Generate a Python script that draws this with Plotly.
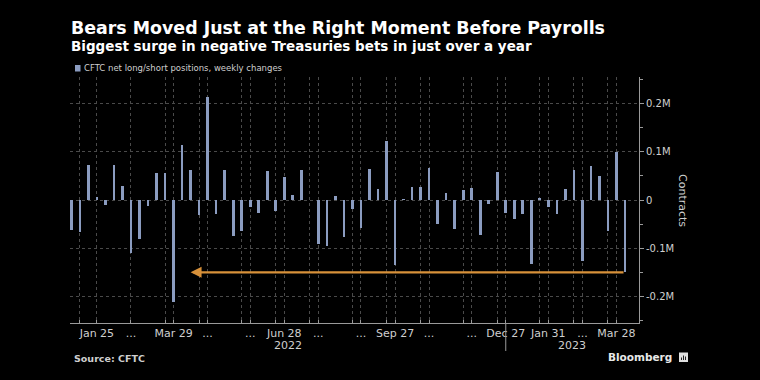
import pandas as pd
import plotly.graph_objects as go

# ---------------- data ----------------
week_start = "2022-01-04"          # first weekly CFTC report (Tuesday)
n_weeks = 66
weeks = pd.date_range(week_start, periods=n_weeks, freq="7D")

# weekly change in CFTC net long/short Treasury positions (contracts)
net_change = [
    -63000, -66000, 72000, 7000, -10000, 72000, 28000, -110000, -81000, -12000,
    57000, 57000, -212000, 113000, 63000, -32000, 214000, -29000, 62000, -74000,
    -65000, -15000, -27000, 61000, -23000, 47000, 11000, 62000, 0, -91000,
    -95000, 9000, -76000, -18000, -59000, 64000, 23000, 123000, -135000, 1000,
    27000, 27000, 66000, -50000, 15000, -60000, 21000, 25000, -72000, -8000,
    59000, -27000, -40000, -28000, -132000, 3000, -14500, -30000, 23000, 62000,
    -127000, 71000, 49000, -64000, 99000, -150000,
]

# x-axis labels (Bloomberg style, crowded months shown as "...")
label_dates = ["2022-01-25", "2022-02-22", "2022-03-29", "2022-04-26", "2022-05-31",
               "2022-06-28", "2022-07-26", "2022-08-30", "2022-09-27", "2022-10-25",
               "2022-11-29", "2022-12-27", "2023-01-31", "2023-02-28", "2023-03-28"]
label_text = ["Jan 25", "...", "Mar 29", "...", "...", "Jun 28", "...", "...", "Sep 27",
              "...", "...", "Dec 27", "Jan 31", "...", "Mar 28"]
# additional vertical grid positions without labels
extra_grid_dates = ["2022-01-11", "2022-03-22", "2022-04-19", "2022-05-24", "2022-06-21",
                    "2022-07-19", "2022-08-23", "2022-09-20", "2022-10-18", "2022-11-22",
                    "2022-12-20", "2023-01-24", "2023-02-21", "2023-03-21"]

y_ticks = [-200000, -100000, 0, 100000, 200000]
y_tick_text = ["-0.2M", "-0.1M", "0", "0.1M", "0.2M"]
y_minor = [-250000, -150000, -50000, 50000, 150000, 250000]

year_labels = ["2022", "2023"]
year_break = "2022-12-27"

# arrow annotation: from the latest week back to the comparable surge
arrow_level = -150000
arrow_from = "2023-04-04"
arrow_to = "2022-04-12"

title = "Bears Moved Just at the Right Moment Before Payrolls"
subtitle = "Biggest surge in negative Treasuries bets in just over a year"
legend_text = "CFTC net long/short positions, weekly changes"
source = "Source: CFTC"

# ---------------- styling ----------------
FONT = "DejaVu Sans"
BAR = "#8b9cc0"
GRID = "#4a4a4a"
AXIS = "#9a9a9a"
TXT = "#cfcfcf"

W, H = 760, 380
ML, MR, MT, MB = 70, 121, 77, 57
PW, PH = W - ML - MR, H - MT - MB


def px(x):
    return (x - ML) / PW


def py(y):
    return (H - MB - y) / PH


x_range = [weeks[0] - pd.Timedelta(hours=26), weeks[-1] + pd.Timedelta(days=11.5)]

fig = go.Figure()
fig.add_trace(go.Bar(
    x=weeks, y=net_change,
    width=2.2 * 86400000,
    marker=dict(color=BAR, line=dict(width=0)),
    name=legend_text,
    showlegend=False,
))

tick_map = {pd.Timestamp(d): t for d, t in zip(label_dates, label_text)}
for d in extra_grid_dates:
    tick_map[pd.Timestamp(d)] = ""
tick_vals = sorted(tick_map)
tick_txt = [tick_map[v] for v in tick_vals]

fig.update_xaxes(
    type="date", range=x_range,
    tickmode="array", tickvals=tick_vals, ticktext=tick_txt,
    showgrid=True, gridcolor=GRID, griddash="dot", gridwidth=1,
    showline=True, linecolor=AXIS, linewidth=1,
    ticks="inside", ticklen=3, tickcolor=AXIS,
    tickfont=dict(family=FONT, size=11, color=TXT),
    zeroline=False, fixedrange=True,
)
fig.update_yaxes(
    side="right", range=[-255000, 255000],
    tickmode="array", tickvals=y_ticks, ticktext=y_tick_text,
    showgrid=True, gridcolor=GRID, griddash="dot", gridwidth=1,
    zeroline=False,
    showline=True, linecolor=AXIS, linewidth=1,
    ticks="outside", ticklen=4, tickcolor=AXIS,
    minor=dict(tickvals=y_minor, ticks="outside", ticklen=3, tickcolor=AXIS, showgrid=False),
    tickfont=dict(family=FONT, size=10, color=TXT),
    fixedrange=True,
)

annotations = [
    dict(text=f"<b>{title}</b>", x=px(69), y=py(28.5), xref="paper", yref="paper",
         xanchor="left", yanchor="middle", showarrow=False,
         font=dict(family=FONT, size=17.4, color="white")),
    dict(text=f"<b>{subtitle}</b>", x=px(69), y=py(46.5), xref="paper", yref="paper",
         xanchor="left", yanchor="middle", showarrow=False,
         font=dict(family=FONT, size=13.5, color="white")),
    dict(text=legend_text, x=px(82), y=py(68.3), xref="paper", yref="paper",
         xanchor="left", yanchor="middle", showarrow=False,
         font=dict(family=FONT, size=8.5, color=TXT)),
    dict(text="Contracts", x=px(683), y=0.5, xref="paper", yref="paper",
         xanchor="center", yanchor="middle", textangle=90, showarrow=False,
         font=dict(family=FONT, size=11, color=TXT)),
    dict(text=f"<b>{source}</b>", x=px(72), y=py(358.3), xref="paper", yref="paper",
         xanchor="left", yanchor="middle", showarrow=False,
         font=dict(family=FONT, size=9.5, color=TXT)),
    dict(text="<b>Bloomberg</b>", x=px(674), y=py(357.3), xref="paper", yref="paper",
         xanchor="right", yanchor="middle", showarrow=False,
         font=dict(family=FONT, size=10.5, color="#e8e8e8")),
    # arrow
    dict(x=arrow_to, y=arrow_level, ax=arrow_from, ay=arrow_level,
         xref="x", yref="y", axref="x", ayref="y", text="", showarrow=True,
         arrowhead=2, arrowsize=1, arrowwidth=2.2, arrowcolor="#d8913a", standoff=0,
         startstandoff=0),
]

# year labels centred on their spans
brk = pd.Timestamp(year_break)
year_centres = [x_range[0] + (brk - x_range[0]) / 2, brk + (x_range[1] - brk) / 2]
for lab, c in zip(year_labels, year_centres):
    annotations.append(dict(text=lab, x=c, y=py(345), xref="x", yref="paper",
                            xanchor="center", yanchor="middle", showarrow=False,
                            font=dict(family=FONT, size=11, color=TXT)))

shapes = [
    # year separator
    dict(type="line", xref="x", yref="paper", x0=brk, x1=brk, y0=0, y1=py(351),
         line=dict(color=AXIS, width=1)),
    # legend swatch
    dict(type="rect", xref="paper", yref="paper", x0=px(75), x1=px(80.5),
         y0=py(71.5), y1=py(65), fillcolor=BAR, line=dict(width=0)),
    # Bloomberg logo badge
    dict(type="rect", xref="paper", yref="paper", x0=px(679), x1=px(688),
         y0=py(362), y1=py(352.5), fillcolor="#e0e0e0", line=dict(width=0)),
]
for bx, top in zip([681.5, 683.5, 685.5], [357.5, 355.5, 356.5]):
    shapes.append(dict(type="line", xref="paper", yref="paper", x0=px(bx), x1=px(bx),
                       y0=py(360), y1=py(top), line=dict(color="#222", width=1)))

fig.update_layout(
    width=W, height=H,
    margin=dict(l=ML, r=MR, t=MT, b=MB, pad=0),
    paper_bgcolor="black", plot_bgcolor="black",
    showlegend=False, bargap=0, hovermode=False,
    annotations=annotations, shapes=shapes,
    font=dict(family=FONT, color=TXT),
)

fig.write_html(
    "out.html",
    config={"displayModeBar": False},
    post_script="document.body.style.margin='0';document.body.style.background='black';",
)
